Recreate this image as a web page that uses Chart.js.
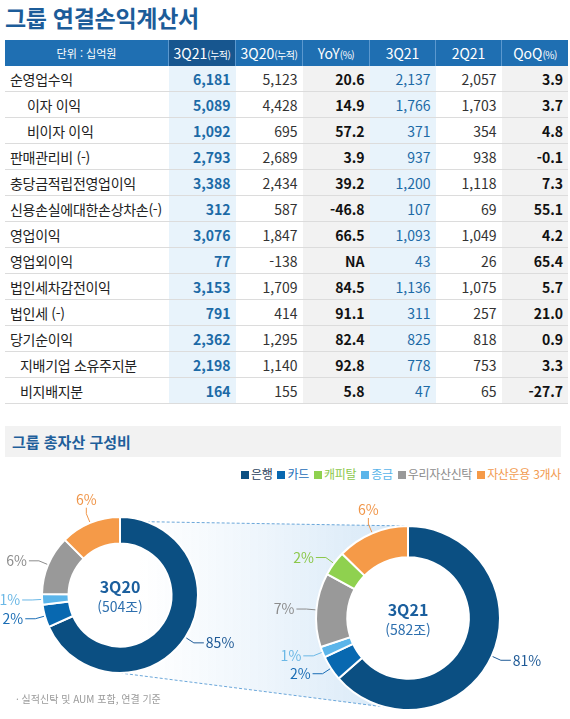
<!DOCTYPE html>
<html lang="ko">
<head>
<meta charset="utf-8">
<script src="https://cdn.jsdelivr.net/npm/chart.js@4.4.1/dist/chart.umd.min.js"></script>
<style>
  body { margin:0; width:570px; height:719px; background:#fff; position:relative; overflow:hidden;
         font-family:"Noto Sans CJK KR","Noto Sans",sans-serif; color:#333; }
  h1 { position:absolute; left:5px; top:0px; margin:0; font-size:23px; font-weight:700; color:#1c5c99; letter-spacing:-0.3px; }
  table { position:absolute; left:5px; top:40px; border-collapse:collapse; table-layout:fixed; width:557px; }
  th { height:26px; padding:0; background:#1f6fb2; color:#fff; font-weight:400; font-size:14px;
       border-left:1px solid #5b98cf; text-align:center; white-space:nowrap; }
  th:first-child { border-left:none; font-size:11px; }
  th.dark { background:#17568f; }
  th small { font-size:10px; letter-spacing:-0.5px; }
  td { height:25px; padding:0 5px 0 0; border-bottom:1px solid #dcdcdc; font-size:14px; text-align:right; white-space:nowrap; }
  td.lbl { text-align:left; padding-left:5px; color:#222; letter-spacing:-0.3px; }
  td.cum { background:#e8f3fb; color:#1c6aa6; font-weight:700; }
  td.q { background:#e8f3fb; color:#1c6aa6; }
  td.pct { background:#f2f2f2; color:#111; font-weight:700; }
  .band { position:absolute; left:5px; top:426px; width:556px; height:31px; background:#f2f2f2; }
  .band span { position:absolute; left:7px; top:0; line-height:31px; font-size:15px; font-weight:700; color:#1f5f9b; }
  #legend { position:absolute; right:9px; top:465px; font-size:12px; white-space:nowrap; letter-spacing:-0.3px; }
  #legend i { display:inline-block; width:8px; height:8px; margin:0 2px 0 5px; vertical-align:0; }
  #charts { position:absolute; left:0; top:462px; width:570px; height:257px; }
  #charts canvas { position:absolute; left:0; top:0; }
  .note { position:absolute; left:16px; top:691px; font-size:10px; color:#9a9a9a; }
</style>
</head>
<body>
<h1>그룹 연결손익계산서</h1>
<table id="pl"></table>
<div class="band"><span>그룹 총자산 구성비</span></div>
<div id="legend"></div>
<div id="charts">
  <canvas id="c3q21" width="570" height="257"></canvas>
  <canvas id="c3q20" width="570" height="257"></canvas>
</div>
<div class="note">· 실적신탁 및 AUM 포함, 연결 기준</div>
<script>
// 손익계산서 (단위: 십억원)
const rowLabels = ['순영업수익', '이자 이익', '비이자 이익', '판매관리비 (-)', '충당금적립전영업이익',
  '신용손실에대한손상차손(-)', '영업이익', '영업외이익', '법인세차감전이익', '법인세 (-)',
  '당기순이익', '지배기업 소유주지분', '비지배지분'];
const rowIndent = [0, 2, 2, 0, 0, 0, 0, 0, 0, 0, 0, 1, 1];
const cum3Q21 = [6181, 5089, 1092, 2793, 3388, 312, 3076, 77, 3153, 791, 2362, 2198, 164];
const cum3Q20 = [5123, 4428, 695, 2689, 2434, 587, 1847, -138, 1709, 414, 1295, 1140, 155];
const yoy     = [20.6, 14.9, 57.2, 3.9, 39.2, -46.8, 66.5, null, 84.5, 91.1, 82.4, 92.8, 5.8];
const q3Q21   = [2137, 1766, 371, 937, 1200, 107, 1093, 43, 1136, 311, 825, 778, 47];
const q2Q21   = [2057, 1703, 354, 938, 1118, 69, 1049, 26, 1075, 257, 818, 753, 65];
const qoq     = [3.9, 3.7, 4.8, -0.1, 7.3, 55.1, 4.2, 65.4, 5.7, 21.0, 0.9, 3.3, -27.7];

// 총자산 구성비 (ring order, clockwise from 12 o'clock)
const segments = ['은행', '카드', '종금', '우리자산신탁', '캐피탈', '자산운용 3개사'];
const share3Q20 = [85, 2, 1, 6, null, 6];   // % labels
const share3Q21 = [81, 2, 1, 7, 2, 6];
// slice sizes as drawn in the source graphic (not to scale with the % labels)
const arc3Q20 = [68.3, 4.7, 2.2, 12.3, 0, 12.5];
const arc3Q21 = [63.6, 4.4, 1.9, 13.0, 4.4, 12.7];
const legendOrder = [0, 1, 4, 2, 3, 5];

const segColors   = ['#0b4f82', '#0868b0', '#5bb5ea', '#999999', '#8fd14f', '#f59a48'];
const labelColors = ['#1f5a96', '#1a6db5', '#6bb8e6', '#8c8c8c', '#8cc84b', '#f0964a'];
const legendText  = ['#1f3d5c', '#1b6db8', '#5bb5ea', '#8c8c8c', '#8cc84b', '#f29b50'];

const FONT = '"Noto Sans CJK KR", "Noto Sans", sans-serif';

// --- table ---
const fmtN = v => v.toLocaleString('en-US');
const fmtP = v => v == null ? 'NA' : v.toFixed(1);
let html = '<tr><th style="width:163px">단위 : 십억원</th><th class="dark" style="width:66px">3Q21<small>(누적)</small></th>' +
  '<th style="width:66px">3Q20<small>(누적)</small></th><th style="width:66px">YoY<small>(%)</small></th>' +
  '<th style="width:65px">3Q21</th><th style="width:65px">2Q21</th><th style="width:66px">QoQ<small>(%)</small></th></tr>';
rowLabels.forEach((lab, i) => {
  const pad = [5, 15, 22][rowIndent[i]];
  html += `<tr><td class="lbl" style="padding-left:${pad}px">${lab}</td>` +
    `<td class="cum">${fmtN(cum3Q21[i])}</td><td>${fmtN(cum3Q20[i])}</td>` +
    `<td class="pct">${fmtP(yoy[i])}</td><td class="q">${fmtN(q3Q21[i])}</td>` +
    `<td>${fmtN(q2Q21[i])}</td><td class="pct">${fmtP(qoq[i])}</td></tr>`;
});
document.getElementById('pl').innerHTML = html;

// --- legend ---
document.getElementById('legend').innerHTML = legendOrder.map(i =>
  `<i style="background:${segColors[i]}"></i><span style="color:${legendText[i]}">${segments[i]}</span>`).join('');

// --- doughnut plugins ---
const centerText = {
  id: 'centerText',
  afterDatasetsDraw(chart, args, opts) {
    const arc = chart.getDatasetMeta(0).data[0];
    const ctx = chart.ctx;
    ctx.save();
    ctx.textAlign = 'center';
    ctx.textBaseline = 'middle';
    ctx.fillStyle = '#1b5f9e';
    ctx.font = 'bold 16px ' + FONT;
    ctx.fillText(opts.title, arc.x, arc.y - 8);
    ctx.fillStyle = '#2d6fae';
    ctx.font = '14px ' + FONT;
    ctx.fillText(opts.sub, arc.x, arc.y + 12);
    ctx.restore();
  }
};

const pctLabels = {
  id: 'pctLabels',
  afterDatasetsDraw(chart, args, opts) {
    const ctx = chart.ctx;
    const arcs = chart.getDatasetMeta(0).data;
    ctx.save();
    ctx.font = '14px ' + FONT;
    ctx.lineWidth = 1;
    arcs.forEach((arc, i) => {
      const txt = opts.texts[i];
      if (txt == null) return;
      const {x, y, startAngle, endAngle, outerRadius} = arc;
      const mid = (startAngle + endAngle) / 2;
      const cos = Math.cos(mid), sin = Math.sin(mid);
      const x0 = x + cos * (outerRadius + 1), y0 = y + sin * (outerRadius + 1);
      const x1 = x + cos * (outerRadius + 10), y1 = y + sin * (outerRadius + 10);
      let x2 = x1, y2 = y1;
      ctx.strokeStyle = labelColors[i];
      ctx.fillStyle = labelColors[i];
      if (Math.abs(cos) > 0.8) {
        const s = Math.sign(cos);
        x2 = x1 + s * 10;
        ctx.textAlign = s > 0 ? 'left' : 'right';
        ctx.textBaseline = 'middle';
        ctx.fillText(txt + '%', x2 + s * 2, y2);
      } else {
        const s = Math.sign(sin);
        y2 = y1 + s * 6;
        ctx.textAlign = 'center';
        ctx.textBaseline = s > 0 ? 'top' : 'bottom';
        ctx.fillText(txt + '%', x2, y2 + s * 1);
      }
      ctx.beginPath();
      ctx.moveTo(x0, y0);
      ctx.lineTo(x1, y1);
      ctx.lineTo(x2, y2);
      ctx.stroke();
    });
    ctx.restore();
  }
};

// light-blue "zoom" band from the 3Q20 ring to the 3Q21 ring
let leftChart = null;
const funnel = {
  id: 'funnel',
  beforeDatasetsDraw(chart) {
    if (!leftChart) return;
    const a = leftChart.getDatasetMeta(0).data[0];
    const b = chart.getDatasetMeta(0).data[0];
    const ctx = chart.ctx;
    const ang = 20 * Math.PI / 180;
    const lt = [a.x + a.outerRadius * Math.sin(ang), a.y - a.outerRadius * Math.cos(ang)];
    const lb = [a.x, a.y + a.outerRadius];
    const rt = [b.x, b.y - b.outerRadius];
    const rb = [b.x, b.y + b.outerRadius];
    ctx.save();
    const g = ctx.createLinearGradient(a.x + 20, 0, b.x - 40, 0);
    g.addColorStop(0, 'rgba(226,239,250,0)');
    g.addColorStop(1, '#dcebf8');
    ctx.fillStyle = g;
    ctx.beginPath();
    ctx.moveTo(lt[0], lt[1]);
    ctx.lineTo(rt[0], rt[1]);
    ctx.lineTo(rb[0], rb[1]);
    ctx.lineTo(lb[0], lb[1]);
    ctx.closePath();
    ctx.fill();
    ctx.strokeStyle = '#6aa6d9';
    ctx.lineWidth = 1;
    ctx.setLineDash([3, 2]);
    ctx.beginPath();
    ctx.moveTo(lt[0], lt[1]); ctx.lineTo(rt[0], rt[1]);
    ctx.moveTo(lb[0], lb[1]); ctx.lineTo(rb[0], rb[1]);
    ctx.stroke();
    ctx.setLineDash([]);
    ctx.fillStyle = '#fff';
    ctx.beginPath();
    ctx.arc(b.x, b.y, b.outerRadius, 0, Math.PI * 2);
    ctx.fill();
    ctx.restore();
  }
};

function doughnut(id, data, texts, title, sub, padding, extra) {
  return new Chart(document.getElementById(id), {
    type: 'doughnut',
    data: {
      labels: segments,
      datasets: [{
        data,
        backgroundColor: segColors,
        borderColor: '#fff',
        borderWidth: 2,
        hoverOffset: 0,
      }]
    },
    options: {
      responsive: false,
      animation: false,
      cutout: '66%',
      layout: { padding },
      plugins: {
        legend: { display: false },
        tooltip: { enabled: false },
        centerText: { title, sub },
        pctLabels: { texts },
      }
    },
    plugins: [centerText, pctLabels].concat(extra || [])
  });
}

leftChart = doughnut('c3q20', arc3Q20, share3Q20, '3Q20', '(504조)',
  { left: 41, right: 371, top: 54, bottom: 45 });
doughnut('c3q21', arc3Q21, share3Q21, '3Q21', '(582조)',
  { left: 315, right: 69, top: 63, bottom: 8 }, [funnel]);
</script>
</body>
</html>
